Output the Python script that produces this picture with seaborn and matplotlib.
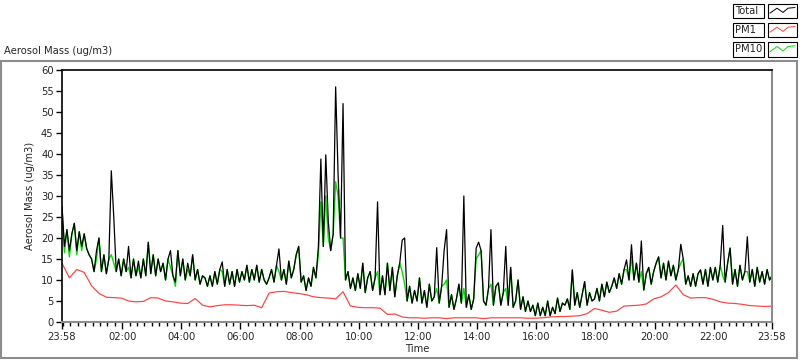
import numpy as np
import pandas as pd
import matplotlib
matplotlib.use("Agg")
import matplotlib.pyplot as plt
import matplotlib.dates as mdates
from matplotlib.ticker import FixedLocator
from matplotlib.patches import Rectangle
from matplotlib.lines import Line2D
import seaborn as sns

# Total mass, 5-minute samples starting 23:58 (one row per hour)
total = [
    27.5, 18, 22, 17, 21, 23.5, 17, 21.5, 18, 21, 17.5, 16,
    15, 12, 17, 20, 12, 16, 11.5, 15, 36, 25, 12, 15,
    11, 15, 12, 18, 10.5, 15, 11, 14.5, 10.5, 15, 11, 19,
    11.5, 16, 11, 15, 12, 14, 10, 15, 17, 11, 9.5, 17,
    11, 15, 10, 14, 11, 16, 10, 12.5, 9, 11, 10.5, 8.5,
    11, 8.5, 12, 9, 12.5, 14.3, 8.5, 12.5, 9, 12, 8.5, 12.5,
    9.5, 12, 10, 13.5, 9.5, 12.5, 10, 13.5, 9.5, 12.5, 10, 9,
    10.5, 12.5, 9.5, 13.5, 17.4, 10, 12.5, 9, 14.5, 10.5, 12.5, 16,
    18, 9.5, 11, 7.5, 10.5, 8.5, 13, 10.5, 18, 38.8, 18, 39.8,
    24, 17, 21, 56, 35, 20, 52, 10, 12, 8, 10.5, 7.5,
    11.5, 8, 14, 7, 10.5, 12, 7.5, 10.5, 28.6, 6.5, 11, 6.5,
    14, 7.5, 13, 6, 11, 14, 19.5, 20, 5, 8.5, 4.5, 7.5,
    5, 10.5, 4.5, 7.5, 3.5, 9, 5, 6, 17.7, 4.5, 8.5, 17,
    22, 3.5, 6.5, 3, 5.5, 9, 4.5, 30, 3.5, 6.5, 3, 5.5,
    17.6, 19, 17, 5, 4, 8, 22, 4, 8.5, 9.3, 4, 7,
    18, 4, 13, 3.5, 5, 10, 3, 6, 2.5, 5, 2.5, 4,
    1.5, 4.5, 1.5, 3.5, 1.5, 5, 1.5, 3.5, 2, 5.7, 2.5, 4.5,
    4, 5.5, 3, 12.4, 4, 7, 3.5, 6.5, 9.6, 4, 7, 5,
    5.5, 8, 5, 9, 6, 9.5, 7, 8.5, 10.5, 8, 11.5, 9,
    12.5, 14.8, 10, 18.4, 10, 14, 9.5, 19.3, 7.6, 11.5, 13, 9,
    12, 14, 15.5, 10.5, 14, 10, 14.5, 11, 13.5, 10, 12.5, 18.5,
    15, 9, 11, 8.5, 11.5, 8.5, 11.5, 12.4, 9, 12.5, 8.5, 13,
    10, 13, 9.5, 13.5, 23, 9.5, 14, 17.6, 9, 12.5, 8.5, 13.5,
    10, 12, 20.3, 9.5, 12.5, 8.5, 13, 9.5, 12, 9, 12.5, 10, 11,
]

# PM10, same sampling
pm10 = [
    27.5, 16.5, 22, 15.5, 21, 23.5, 16, 21.5, 17, 21, 17.5, 16,
    15, 12, 15, 20, 12, 16, 11.5, 15, 16, 14, 12, 15,
    11, 15, 12, 13, 10.5, 15, 11, 13, 10.5, 15, 11, 19,
    11.5, 16, 11, 15, 12, 14, 10, 15, 13, 11, 8.5, 17,
    11, 15, 10, 12.5, 11, 16, 10, 12.5, 9, 11, 10.5, 8.5,
    11, 8.5, 12, 9, 12.5, 12, 8.5, 12.5, 9, 12, 8.5, 12.5,
    9.5, 12, 10, 13.5, 9.5, 12.5, 10, 13.5, 9.5, 12.5, 10, 9,
    10.5, 12.5, 9.5, 13.5, 12, 10, 12.5, 9, 14.5, 10.5, 12.5, 16,
    18, 9.5, 11, 7.5, 10.5, 8.5, 13, 10.5, 16, 28.6, 18, 30,
    20, 17, 21, 33.4, 30, 20, 20, 10, 12, 8, 10.5, 7.5,
    11.5, 8, 14, 7, 10.5, 12, 7.5, 10.5, 12, 6.5, 11, 6.5,
    14, 7.5, 13, 6, 11, 14, 12, 9, 5, 8.5, 4.5, 7.5,
    5, 10.5, 4.5, 7.5, 3.5, 9, 5, 6, 8, 4.5, 8.5, 9,
    10, 3.5, 6.5, 3, 5.5, 9, 4.5, 8, 3.5, 6.5, 3, 5.5,
    15, 16, 17, 5, 4, 8, 9, 4, 8.5, 9.3, 4, 7,
    8, 4, 13, 3.5, 5, 10, 3, 6, 2.5, 5, 2.5, 4,
    1.5, 4.5, 1.5, 3.5, 1.5, 5, 1.5, 3.5, 2, 5.7, 2.5, 4.5,
    4, 5.5, 3, 12.4, 4, 7, 3.5, 6.5, 9.6, 4, 7, 5,
    5.5, 8, 5, 9, 6, 9.5, 7, 8.5, 10.5, 8, 11.5, 9,
    12.5, 12.5, 10, 15.5, 10, 14, 9.5, 12, 7.6, 11.5, 13, 9,
    12, 14, 15.5, 10.5, 14, 10, 14.5, 11, 13.5, 10, 12.5, 14,
    15, 9, 11, 8.5, 11.5, 8.5, 11.5, 12.4, 9, 12.5, 8.5, 13,
    10, 13, 9.5, 13.5, 11, 9.5, 14, 17.6, 9, 12.5, 8.5, 13.5,
    10, 12, 12, 9.5, 12.5, 8.5, 13, 9.5, 12, 9, 12.5, 10, 11,
]

# PM1, 15-minute samples
pm1 = [
    14, 10.5, 12.5, 11.8, 8.6, 6.8, 5.9, 5.8, 5.7, 5.0, 4.8, 4.9,
    5.8, 5.7, 5.0, 4.8, 4.5, 4.4, 5.6, 4.0, 3.6, 3.9, 4.1, 4.1,
    4.0, 3.9, 4.0, 3.4, 6.9, 7.2, 7.3, 7.0, 6.8, 6.5, 6.0, 5.8,
    5.7, 5.5, 7.2, 3.8, 3.5, 3.4, 3.4, 3.3, 1.8, 1.9, 1.2, 1.0,
    1.0, 0.9, 1.0, 1.0, 0.8, 1.0, 1.0, 1.0, 1.0, 0.8, 1.0, 1.0,
    1.0, 1.0, 1.0, 0.9, 0.9, 1.0, 1.2, 1.3, 1.3, 1.4, 1.5, 2.0,
    3.2, 2.8, 2.3, 2.6, 3.8, 3.9, 4.0, 4.3, 5.5, 6.0, 7.0, 8.8,
    6.5, 5.7, 5.8, 5.8, 5.4, 4.8, 4.5, 4.4, 4.2, 3.9, 3.8, 3.7,
    3.8,
]

legend_labels = ["Total", "PM1", "PM10"]
legend_colors = ["black", "#ff4040", "#00e000"]

sns.set_theme(style="ticks")
plt.rcParams['font.family'] = ['DejaVu Sans']

start = pd.Timestamp("2013-05-01 23:58")
t5 = pd.date_range(start, periods=len(total), freq="5min")
t15 = pd.date_range(start, periods=len(pm1), freq="15min")

W, H = 800, 361
fig = plt.figure(figsize=(W / 100, H / 100), dpi=100)
fig.patch.set_facecolor("white")
ax = fig.add_axes([62 / W, 39 / H, 710 / W, 252 / H])

sns.lineplot(x=t5, y=pm10, ax=ax, color=legend_colors[2], lw=1.0)
sns.lineplot(x=t5, y=total, ax=ax, color=legend_colors[0], lw=0.9)
sns.lineplot(x=t15, y=pm1, ax=ax, color=legend_colors[1], lw=0.85)

ax.set_xlim(t5[0], t5[-1])
ax.set_ylim(0, 60)
ax.set_yticks(range(0, 61, 5))

major = [start] + [start.normalize() + pd.Timedelta(days=1, hours=h) for h in range(2, 23, 2)] + [t5[-1]]
ax.xaxis.set_major_locator(FixedLocator(mdates.date2num(major)))
ax.xaxis.set_major_formatter(mdates.DateFormatter("%H:%M"))
ax.xaxis.set_minor_locator(mdates.MinuteLocator(byminute=[0, 15, 30, 45]))

ax.tick_params(axis="both", which="both", direction="out", color="black", width=1, labelsize=7.2, pad=2)
ax.tick_params(axis="x", which="major", length=5)
ax.tick_params(axis="x", which="minor", length=3)
ax.tick_params(axis="y", which="major", length=4)

ax.set_xlabel("Time", fontsize=7.2, labelpad=2)
ax.set_ylabel("Aerosol Mass (ug/m3)", fontsize=7.2, labelpad=4)

for s in ["top", "left"]:
    ax.spines[s].set_color("black")
    ax.spines[s].set_linewidth(1.2)
for s in ["bottom", "right"]:
    ax.spines[s].set_color("#8c8c8c")
    ax.spines[s].set_linewidth(1.5)


def fx(px):
    return px / W


def fy(py):
    return 1 - py / H


# outer panel frame
fig.add_artist(Rectangle((fx(1), fy(358)), fx(796), 297 / H, transform=fig.transFigure,
                         fill=False, edgecolor="#8c8c8c", lw=1.5))
fig.text(fx(4), fy(51), "Aerosol Mass (ug/m3)", fontsize=7.2, va="center", ha="left")

# legend boxes
rows = [(4, 18), (23, 37), (42, 57)]
for (top, bot), lab, col in zip(rows, legend_labels, legend_colors):
    fig.add_artist(Rectangle((fx(733), fy(bot)), fx(31), (bot - top) / H, transform=fig.transFigure,
                             fill=True, facecolor="white", edgecolor="black", lw=0.8))
    fig.add_artist(Rectangle((fx(768), fy(bot)), fx(29), (bot - top) / H, transform=fig.transFigure,
                             fill=True, facecolor="white", edgecolor="black", lw=0.8))
    fig.text(fx(735), fy((top + bot) / 2), lab, fontsize=7.2, va="center", ha="left")
    xs = [fx(770), fx(777), fx(783), fx(788), fx(795)]
    h = bot - top
    ys = [fy(bot - 0.35 * h), fy(top + 0.3 * h), fy(bot - 0.4 * h), fy(top + 0.3 * h), fy(top + 0.25 * h)]
    fig.add_artist(Line2D(xs, ys, transform=fig.transFigure, color=col, lw=0.7))

fig.savefig("out.png", dpi=100)
